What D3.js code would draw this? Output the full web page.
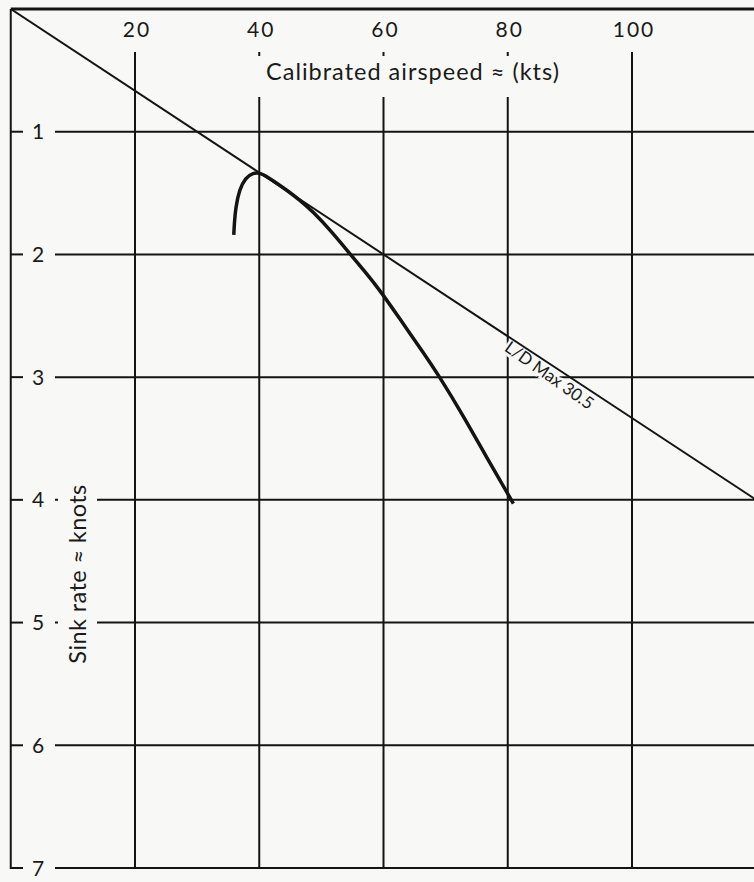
<!DOCTYPE html>
<html><head><meta charset="utf-8">
<script src="https://cdn.jsdelivr.net/npm/d3@7"></script>
<style>
html,body{margin:0;padding:0;background:#f8f8f6;}
svg{display:block;}
text{font-family:Lato,"Open Sans",sans-serif;fill:#1a1a1a;}
</style></head>
<body>
<svg id="chart" width="754" height="882"></svg>
<script>
// ---- data ----
const speedTicks = [20, 40, 60, 80, 100];
const sinkTicks = [1, 2, 3, 4, 5, 6, 7];
const xTitle = "Calibrated airspeed \u2248 (kts)";
const yTitle = "Sink rate \u2248 knots";
const ldLabel = "L/D Max 30.5";
// L/D max tangent line (speed kts, sink kts)
const ldSpeed = [0, 120];
const ldSink = [0, 4.0];
// polar curve (speed kts, sink kts)
const polarSpeed = [35.9, 36.0, 36.2, 36.8, 37.8, 39.0, 40.2, 42.0, 44.4, 46.6, 48.7, 51.4, 54.6, 57.0, 59.4, 62.7, 66.4, 69.0, 72.9, 76.6, 80.4, 80.9];
const polarSink  = [1.84, 1.74, 1.62, 1.47, 1.375, 1.335, 1.335, 1.39, 1.475, 1.56, 1.655, 1.80, 1.995, 2.14, 2.29, 2.53, 2.80, 2.995, 3.32, 3.655, 3.985, 4.03];

// ---- layout ----
const W = 754, H = 882;
const svg = d3.select("#chart");
const x = d3.scaleLinear().domain([0, 120]).range([10.75, 756.25]);
const y = d3.scaleLinear().domain([0, 7]).range([9, 868]);
const ink = "#141414";
const bg = "#f8f8f6";

svg.append("rect").attr("width", W).attr("height", H).attr("fill", bg);

svg.append("defs").append("clipPath").attr("id", "plot")
  .append("rect").attr("x", x(0)).attr("y", y(0)).attr("width", W - x(0)).attr("height", y(7) - y(0));

const grid = svg.append("g").attr("stroke", ink).attr("stroke-width", 2);
// vertical grid lines
grid.selectAll("line.v").data(speedTicks).join("line")
  .attr("x1", d => x(d)).attr("x2", d => x(d))
  .attr("y1", 52).attr("y2", y(7));
// horizontal grid lines
grid.selectAll("line.h").data(sinkTicks).join("line")
  .attr("x1", 55).attr("x2", W)
  .attr("y1", d => y(d)).attr("y2", d => y(d));
// left tick marks
grid.selectAll("line.t").data(sinkTicks).join("line")
  .attr("x1", x(0)).attr("x2", 23)
  .attr("y1", d => y(d)).attr("y2", d => y(d));

// knockouts for the axis titles
svg.append("rect").attr("x", 248).attr("y", 56).attr("width", 330).attr("height", 41).attr("fill", bg);
svg.append("rect").attr("x", 58).attr("y", 470).attr("width", 39).attr("height", 205).attr("fill", bg);

// borders
svg.append("line").attr("x1", x(0)).attr("x2", W).attr("y1", y(0)).attr("y2", y(0))
  .attr("stroke", ink).attr("stroke-width", 3);
svg.append("line").attr("x1", x(0)).attr("x2", x(0)).attr("y1", y(0)).attr("y2", y(7) + 1)
  .attr("stroke", ink).attr("stroke-width", 2);

// tick labels
svg.selectAll("text.xt").data(speedTicks).join("text")
  .attr("x", d => x(d) + 2).attr("y", 37)
  .attr("text-anchor", "middle").attr("font-size", 21).attr("letter-spacing", 2)
  .text(d => d);
svg.selectAll("text.yt").data(sinkTicks).join("text")
  .attr("x", 38).attr("y", d => y(d) + 7.5)
  .attr("text-anchor", "middle").attr("font-size", 21)
  .text(d => d);

// axis titles
svg.append("text").attr("x", 413).attr("y", 80).attr("text-anchor", "middle")
  .attr("font-size", 23.5).attr("letter-spacing", 1).text(xTitle);
svg.append("text").attr("transform", "translate(86,574) rotate(-90)")
  .attr("text-anchor", "middle").attr("font-size", 23.5).attr("letter-spacing", 0.4).text(yTitle);

// L/D label (halo knocks out grid)
const ang = Math.atan2(y(ldSink[1]) - y(ldSink[0]), x(ldSpeed[1]) - x(ldSpeed[0])) * 180 / Math.PI;
svg.append("text")
  .attr("transform", `translate(546,380) rotate(${ang + 2})`)
  .attr("text-anchor", "middle").attr("font-size", 17)
  .attr("stroke", bg).attr("stroke-width", 5).attr("paint-order", "stroke")
  .text(ldLabel);

const plot = svg.append("g").attr("clip-path", "url(#plot)");
// L/D line
plot.append("path")
  .datum(ldSpeed.map((s, i) => [s, ldSink[i]]))
  .attr("d", d3.line().x(d => x(d[0])).y(d => y(d[1])))
  .attr("fill", "none").attr("stroke", ink).attr("stroke-width", 2);
// polar curve
plot.append("path")
  .datum(polarSpeed.map((s, i) => [s, polarSink[i]]))
  .attr("d", d3.line().x(d => x(d[0])).y(d => y(d[1])).curve(d3.curveBasis))
  .attr("fill", "none").attr("stroke", ink).attr("stroke-width", 3.5)
  .attr("stroke-linecap", "butt");
</script>
</body></html>
